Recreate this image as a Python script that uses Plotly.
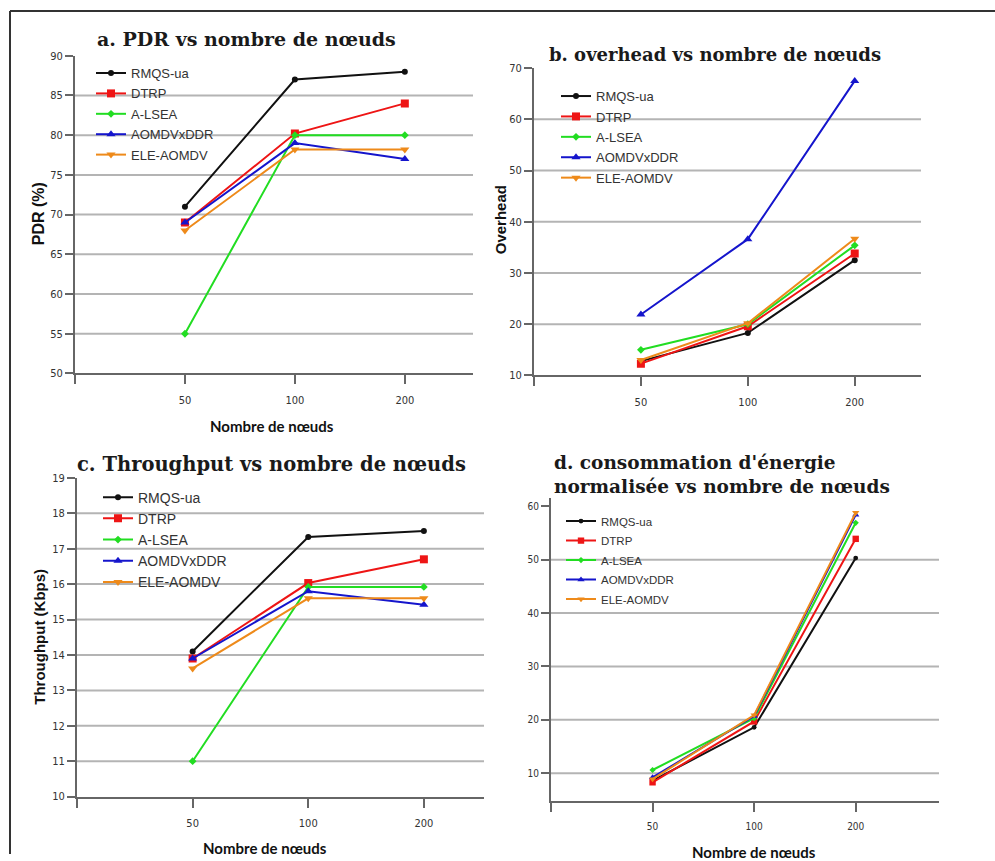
import plotly.graph_objects as go

W, H = 995, 861
# vertical placement of the drawing inside the page (top offset, drawn height)
Y_OFF, Y_SPAN = 7.0, 847.0

# ---- data -------------------------------------------------------------
nodes = ["50", "100", "200"]
protocols = ["RMQS-ua", "DTRP", "A-LSEA", "AOMDVxDDR", "ELE-AOMDV"]

# a. PDR (%)
pdr_rmqs = [71, 87, 88]
pdr_dtrp = [69, 80.2, 84]
pdr_alsea = [55, 80, 80]
pdr_aomdvxddr = [69, 79, 77]
pdr_ele = [68, 78.2, 78.2]

# b. overhead
ovh_rmqs = [12.8, 18.3, 32.5]
ovh_dtrp = [12.3, 19.6, 33.8]
ovh_alsea = [15.0, 20.0, 35.4]
ovh_aomdvxddr = [21.9, 36.6, 67.5]
ovh_ele = [13.0, 20.2, 36.7]

# c. throughput (Kbps)
thr_rmqs = [14.1, 17.33, 17.5]
thr_dtrp = [13.9, 16.03, 16.7]
thr_alsea = [11.0, 15.92, 15.92]
thr_aomdvxddr = [13.9, 15.8, 15.42]
thr_ele = [13.62, 15.6, 15.6]

# d. normalised energy consumption
nrj_rmqs = [8.6, 18.6, 50.3]
nrj_dtrp = [8.3, 19.7, 53.9]
nrj_alsea = [10.6, 20.3, 56.9]
nrj_aomdvxddr = [9.2, 20.7, 58.4]
nrj_ele = [8.9, 20.9, 58.8]

pdr_ticks = [50, 55, 60, 65, 70, 75, 80, 85, 90]
ovh_ticks = [10, 20, 30, 40, 50, 60, 70]
thr_ticks = [10, 11, 12, 13, 14, 15, 16, 17, 18, 19]
nrj_ticks = [10, 20, 30, 40, 50, 60]

# ---- styles -----------------------------------------------------------
colors = ["#111111", "#ee1515", "#22dd22", "#1515cc", "#ee8a1a"]
symbols = ["circle", "square", "diamond", "triangle-up", "triangle-down"]
msizes = [6, 8, 6, 8, 8]

SANS_NARROW = "DejaVu Sans Condensed, Liberation Sans, sans-serif"
TICK_FONT = dict(family=SANS_NARROW, size=11, color="#333333")
AXIS_COL = "#666666"
GRID_COL = "#b4b4b4"


def px_x(p):
    return p / W


def px_y(p):
    return 1 - (p - Y_OFF) / Y_SPAN


x_pos = list(range(1, len(nodes) + 1))

fig = go.Figure()

panels = [
    # series, x axis, y axis, legend, marker scale
    ([pdr_rmqs, pdr_dtrp, pdr_alsea, pdr_aomdvxddr, pdr_ele], "x", "y", "legend", 1.0),
    ([ovh_rmqs, ovh_dtrp, ovh_alsea, ovh_aomdvxddr, ovh_ele], "x2", "y2", "legend2", 1.0),
    ([thr_rmqs, thr_dtrp, thr_alsea, thr_aomdvxddr, thr_ele], "x3", "y3", "legend3", 1.0),
    ([nrj_rmqs, nrj_dtrp, nrj_alsea, nrj_aomdvxddr, nrj_ele], "x4", "y4", "legend4", 0.8),
]

for series, xa, ya, lg, scale in panels:
    for i, (name, vals) in enumerate(zip(protocols, series)):
        fig.add_trace(go.Scatter(
            x=x_pos, y=vals, name=name, mode="lines+markers",
            xaxis=xa, yaxis=ya, legend=lg, legendgroup=lg + name,
            line=dict(color=colors[i], width=2),
            marker=dict(color=colors[i], symbol=symbols[i], size=msizes[i] * scale),
        ))


def xaxis(dom, rng, tfont=TICK_FONT):
    return dict(
        domain=dom, range=rng, tickvals=[0] + x_pos, ticktext=[""] + nodes,
        showline=True, linecolor=AXIS_COL, linewidth=2,
        ticks="outside", ticklen=9, tickwidth=1.5, tickcolor=AXIS_COL,
        showgrid=False, zeroline=False, tickfont=tfont, ticklabelstandoff=6,
        fixedrange=True,
    )


def yaxis(dom, rng, ticks, anchor, tfont=TICK_FONT):
    return dict(
        domain=dom, range=rng, tickvals=ticks, anchor=anchor,
        showline=True, linecolor=AXIS_COL, linewidth=2,
        ticks="outside", ticklen=8, tickwidth=1.5, tickcolor=AXIS_COL,
        showgrid=False, zeroline=False, tickfont=tfont, fixedrange=True,
    )


small_tick = dict(family=SANS_NARROW, size=10, color="#333333")

fig.update_layout(
    xaxis=xaxis([px_x(75), px_x(473)], [0, 3.62]) | dict(anchor="y"),
    yaxis=yaxis([px_y(374), px_y(56.7)], [50, 90], pdr_ticks, "x"),
    xaxis2=xaxis([px_x(534), px_x(921)], [0, 3.62]) | dict(anchor="y2"),
    yaxis2=yaxis([px_y(376), px_y(69)], [10, 70], ovh_ticks, "x2"),
    xaxis3=xaxis([px_x(77), px_x(484)], [0, 3.52]) | dict(anchor="y3"),
    yaxis3=yaxis([px_y(796.7), px_y(478.3)], [10, 19], thr_ticks, "x3"),
    xaxis4=xaxis([px_x(551), px_x(939)], [0, 3.82], small_tick) | dict(anchor="y4"),
    yaxis4=yaxis([px_y(800.7), px_y(498)], [4.86, 61.63], nrj_ticks, "x4", small_tick),
)

# horizontal grid lines (inner ticks only)
shapes = []
for ticks, xa, ya in [(pdr_ticks, "x", "y"), (ovh_ticks, "x2", "y2"),
                      (thr_ticks, "x3", "y3"), (nrj_ticks, "x4", "y4")]:
    inner = ticks[1:-1] if ya != "y4" else ticks[:-1]
    for v in inner:
        shapes.append(dict(type="line", xref=xa + " domain", yref=ya,
                           x0=0, x1=1, y0=v, y1=v, layer="below",
                           line=dict(color=GRID_COL, width=2)))

# outer frame (top and left edges)
shapes.append(dict(type="line", xref="paper", yref="paper",
                   x0=px_x(10), x1=1, y0=px_y(12), y1=px_y(12),
                   line=dict(color="#333333", width=2)))
shapes.append(dict(type="line", xref="paper", yref="paper",
                   x0=px_x(10), x1=px_x(10), y0=px_y(12), y1=0,
                   line=dict(color="#333333", width=2)))
fig.update_layout(shapes=shapes)


def legend(x, y, size, gap):
    return dict(
        x=px_x(x), y=px_y(y), xanchor="left", yanchor="top",
        bgcolor="rgba(0,0,0,0)", borderwidth=0, traceorder="grouped",
        tracegroupgap=gap, itemwidth=30,
        font=dict(family="Liberation Sans", size=size, color="#333333"),
    )


fig.update_layout(
    legend=legend(91, 59, 13, 0.5),
    legend2=legend(556, 82, 13, 0.5),
    legend3=legend(98, 482, 14, 0),
    legend4=legend(561, 507, 11.5, 0.5),
)

TITLE_FONT = dict(family="DejaVu Serif", size=19, color="#1a1a1a", weight="bold")
AX_FONT = dict(family="Liberation Sans", size=15, color="#111111", weight="bold")
XT_FONT = dict(family="Lato", size=15, color="#111111", weight="bold")

ann = [
    dict(text="a. PDR vs nombre de nœuds", x=px_x(246), y=px_y(40), font=TITLE_FONT),
    dict(text="b. overhead vs nombre de nœuds", x=px_x(715), y=px_y(55),
         font=TITLE_FONT | dict(size=18)),
    dict(text="c. Throughput vs nombre de nœuds", x=px_x(271), y=px_y(465),
         font=TITLE_FONT | dict(size=19.5)),
    dict(text="d. consommation d'énergie<br>normalisée vs nombre de nœuds",
         x=px_x(552), y=px_y(475), xanchor="left", align="left",
         font=TITLE_FONT | dict(size=18.5)),
    dict(text="PDR (%)", x=px_x(38), y=px_y(215), textangle=-90,
         font=AX_FONT | dict(size=16)),
    dict(text="Overhead", x=px_x(500), y=px_y(220), textangle=-90, font=AX_FONT),
    dict(text="Throughput (Kbps)", x=px_x(40), y=px_y(637), textangle=-90, font=AX_FONT),
    dict(text="Nombre de nœuds", x=px_x(272), y=px_y(427), font=XT_FONT),
    dict(text="Nombre de nœuds", x=px_x(265), y=px_y(848), font=XT_FONT),
    dict(text="Nombre de nœuds", x=px_x(754), y=px_y(852), font=XT_FONT),
]
for a in ann:
    a.setdefault("xanchor", "center")
    a.update(xref="paper", yref="paper", yanchor="middle", showarrow=False)
fig.update_layout(annotations=ann)

fig.update_layout(
    width=W, height=H, margin=dict(l=0, r=0, t=0, b=0),
    paper_bgcolor="white", plot_bgcolor="white",
)

fig.write_html("out.html", config={"displayModeBar": False},
               post_script="document.body.style.margin='0';")
